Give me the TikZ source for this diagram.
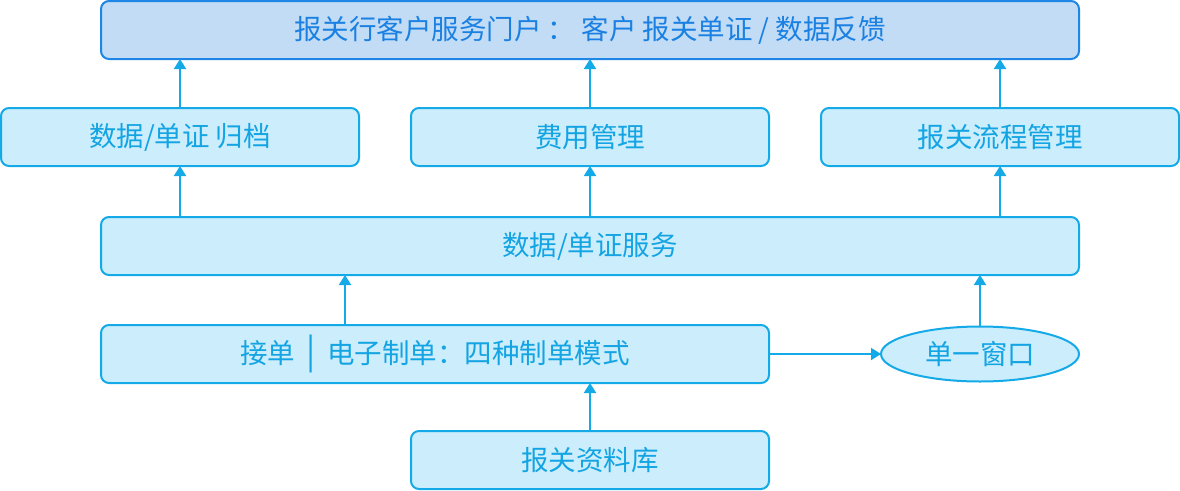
\documentclass[tikz,border=0pt]{standalone}
\usepackage{fontspec}
\setmainfont{Noto Sans CJK SC}
\usetikzlibrary{shapes.geometric,arrows.meta}
\definecolor{cbord}{HTML}{14AAE8}
\definecolor{cfill}{HTML}{CCEDFB}
\definecolor{ctext}{HTML}{13A4E3}
\definecolor{tbord}{HTML}{1D86E6}
\definecolor{tfill}{HTML}{C2DCF6}
\definecolor{ttext}{HTML}{1A80E2}
\begin{document}
\begin{tikzpicture}[x=1pt,y=-1pt,
  box/.style={draw=cbord,fill=cfill,line width=2pt,rounded corners=8pt,text=ctext,
    font=\fontsize{27.5}{32}\selectfont,inner sep=0pt,outer sep=0pt,anchor=north west},
  topbox/.style={box,draw=tbord,fill=tfill,text=ttext},
  oval/.style={ellipse,draw=cbord,fill=cfill,line width=2pt,text=ctext,
    font=\fontsize{27.5}{32}\selectfont,inner sep=0pt,outer sep=0pt},
  arr/.style={draw=cbord,line width=2pt,-{Triangle[length=10pt,width=12pt]}}]
\useasboundingbox (0,0) rectangle (1180,490);
\node[topbox,minimum width=978pt,minimum height=58pt] (top) at (101,1) {报关行客户服务门户 ： 客户 报关单证 / 数据反馈};
\node[box,minimum width=358pt,minimum height=58pt] (arch) at (1,108) {数据/单证 归档};
\node[box,minimum width=358pt,minimum height=58pt] (fee) at (411,108) {费用管理};
\node[box,minimum width=358pt,minimum height=58pt] (flow) at (821,108) {报关流程管理};
\node[box,minimum width=978pt,minimum height=58pt] (svc) at (101,217) {数据/单证服务};
\node[box,minimum width=668pt,minimum height=58pt] (order) at (101,325) {接单\hspace{0.42em}{\fontsize{34}{34}\selectfont|}\hspace{0.42em}电子制单：四种制单模式};
\node[oval,minimum width=198pt,minimum height=55pt] (win) at (order.center -| 980,0) {单一窗口};
\node[box,minimum width=358pt,minimum height=58pt] (lib) at (411,431) {报关资料库};
\draw[arr] (arch.north) -- (top.south -| arch.north);
\draw[arr] (fee.north) -- (top.south -| fee.north);
\draw[arr] (flow.north) -- (top.south -| flow.north);
\draw[arr] (svc.north -| arch.south) -- (arch.south);
\draw[arr] (svc.north -| fee.south) -- (fee.south);
\draw[arr] (svc.north -| flow.south) -- (flow.south);
\coordinate (o1) at (345,325);
\draw[arr] (o1) -- (svc.south -| o1);
\draw[arr] (win.north) -- (svc.south -| win.north);
\draw[arr] (order.east) -- (win.west);
\draw[arr] (lib.north) -- (order.south -| lib.north);
\end{tikzpicture}
\end{document}
